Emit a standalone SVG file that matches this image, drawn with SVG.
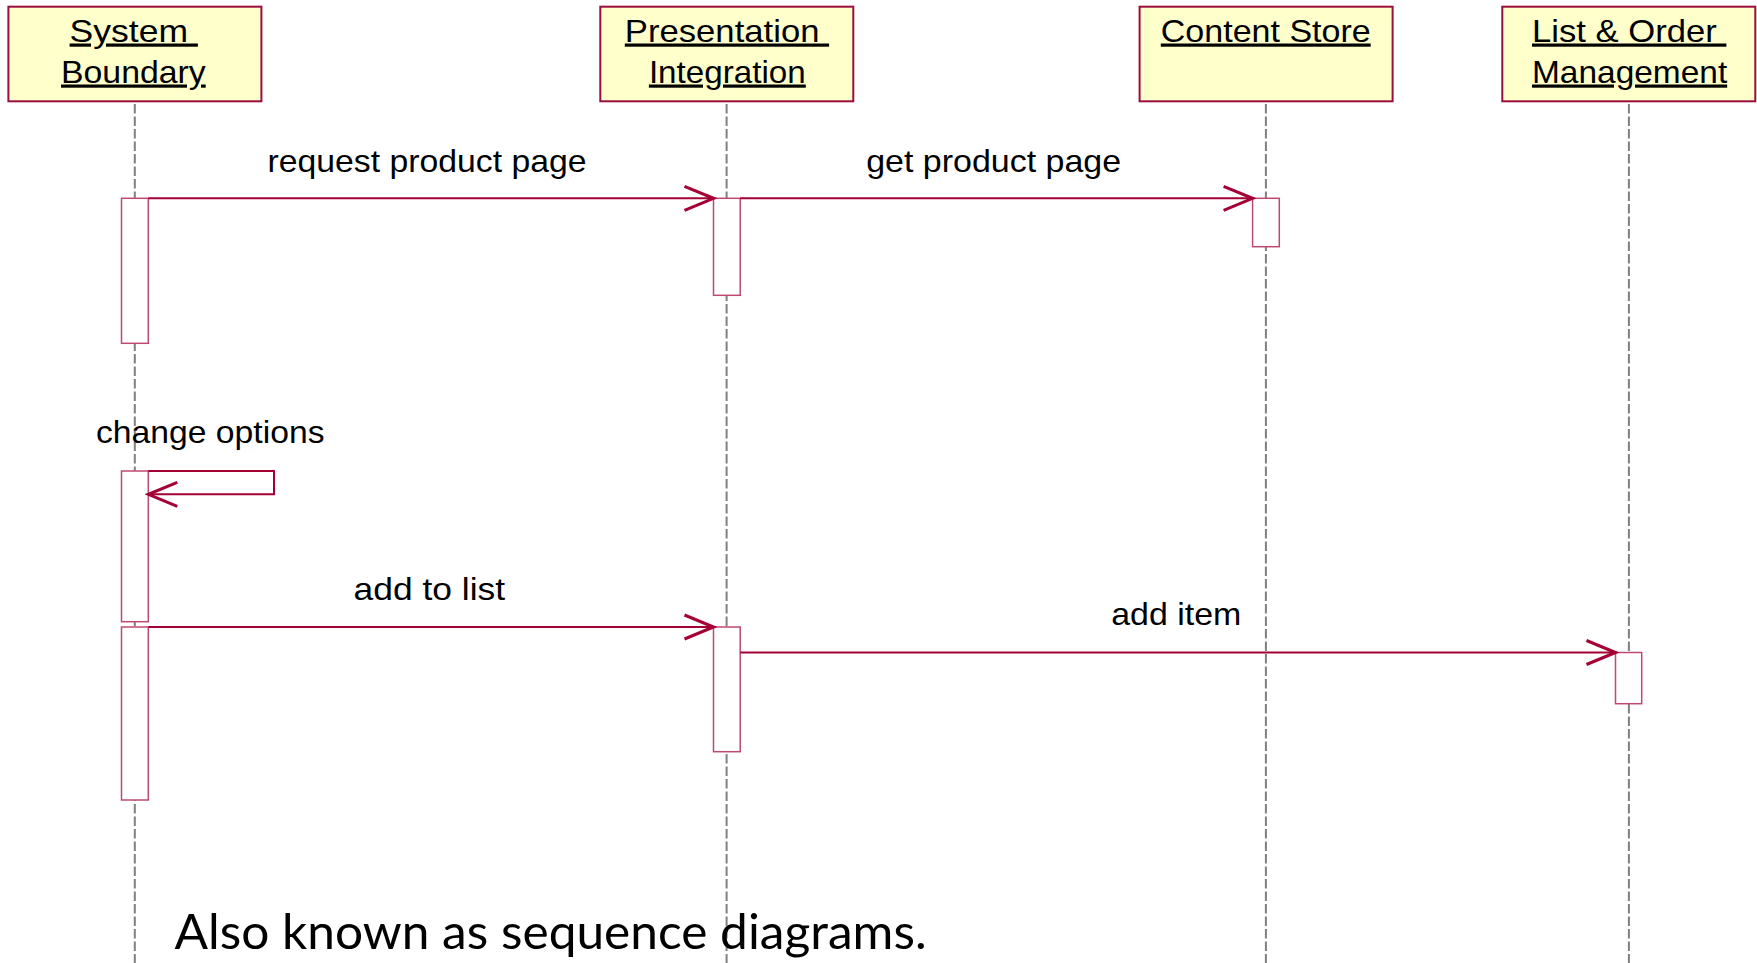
<svg xmlns="http://www.w3.org/2000/svg" width="1757" height="963" viewBox="0 0 1757 963">
  <style>
    .box { fill: #FFFFCC; stroke: #9B0D3E; stroke-width: 2; }
    .head { font-family: "Liberation Sans", Arial, sans-serif; font-size: 32px; fill: #000; text-decoration: underline; }
    .life { stroke: #808080; stroke-width: 2; stroke-dasharray: 9.5 3; fill: none; }
    .act { fill: #FFFFFF; stroke: #BE4A72; stroke-width: 1.5; }
    .msg { stroke: #A50034; stroke-width: 2; fill: none; marker-end: url(#open); }
    .lbl { font-family: "Liberation Sans", Arial, sans-serif; font-size: 32px; fill: #000; }
    .note { font-family: Lato, "Open Sans", sans-serif; font-size: 48px; fill: #000; }
  </style>
  <defs>
    <marker id="open" markerUnits="userSpaceOnUse" viewBox="-2 -2 34 28" refX="29" refY="12" markerWidth="34" markerHeight="28" orient="auto">
      <path d="M0,0 L29,12 L0,24" fill="none" stroke="#A50034" stroke-width="3"/>
    </marker>
  </defs>

  <rect width="1757" height="963" fill="#FFFFFF"/>

  <!-- lifelines -->
  <g id="lifelines">
    <line class="life" x1="134.8" y1="104" x2="134.8" y2="963"/>
    <line class="life" x1="726.6" y1="104" x2="726.6" y2="963"/>
    <line class="life" x1="1265.9" y1="104" x2="1265.9" y2="963"/>
    <line class="life" x1="1628.9" y1="104" x2="1628.9" y2="963"/>
  </g>

  <!-- participants -->
  <g id="system-boundary">
    <rect class="box" x="8.4" y="6.7" width="253" height="94.6"/>
    <text class="head" xml:space="preserve" x="69.6" y="41.5" textLength="128.3" lengthAdjust="spacingAndGlyphs">System </text>
    <text class="head" x="61" y="82.5" textLength="144.7" lengthAdjust="spacingAndGlyphs">Boundary</text>
  </g>
  <g id="presentation-integration">
    <rect class="box" x="600.3" y="6.7" width="253" height="94.6"/>
    <text class="head" xml:space="preserve" x="624.8" y="41.5" textLength="204.3" lengthAdjust="spacingAndGlyphs">Presentation </text>
    <text class="head" x="648.9" y="82.5" textLength="156.9" lengthAdjust="spacingAndGlyphs">Integration</text>
  </g>
  <g id="content-store">
    <rect class="box" x="1139.6" y="6.7" width="253" height="94.6"/>
    <text class="head" x="1160.8" y="41.5" textLength="209.9" lengthAdjust="spacingAndGlyphs">Content Store</text>
  </g>
  <g id="list-order-management">
    <rect class="box" x="1502.3" y="6.7" width="253" height="94.6"/>
    <text class="head" xml:space="preserve" x="1532" y="41.5" textLength="194.4" lengthAdjust="spacingAndGlyphs">List &amp; Order </text>
    <text class="head" x="1532" y="82.5" textLength="195.2" lengthAdjust="spacingAndGlyphs">Management</text>
  </g>

  <!-- activation bars -->
  <g id="activations">
    <rect class="act" x="121.5" y="198.3" width="26.8" height="145"/>
    <rect class="act" x="713.5" y="198.3" width="26.7" height="97"/>
    <rect class="act" x="1252.6" y="198.3" width="26.7" height="48.4"/>
    <rect class="act" x="121.5" y="471" width="26.8" height="150.7"/>
    <rect class="act" x="121.5" y="627" width="26.8" height="173"/>
    <rect class="act" x="713.5" y="627" width="26.7" height="124.7"/>
    <rect class="act" x="1615.5" y="652.5" width="26.2" height="51.2"/>
  </g>

  <!-- messages -->
  <g id="connectors">
    <line class="msg" x1="148.3" y1="198.3" x2="713.5" y2="198.3"/>
    <line class="msg" x1="740.2" y1="198.3" x2="1252.6" y2="198.3"/>
    <path class="msg" d="M148.3,471 H274 V494.3 H148.3"/>
    <line class="msg" x1="148.3" y1="627" x2="713.5" y2="627"/>
    <line class="msg" x1="740.2" y1="652.5" x2="1615.5" y2="652.5"/>
  </g>

  <!-- message labels -->
  <g id="labels">
    <text class="lbl" x="267.5" y="171.5" textLength="319" lengthAdjust="spacingAndGlyphs">request product page</text>
    <text class="lbl" x="866.2" y="171.5" textLength="254.9" lengthAdjust="spacingAndGlyphs">get product page</text>
    <text class="lbl" x="95.9" y="443.3" textLength="228.6" lengthAdjust="spacingAndGlyphs">change options</text>
    <text class="lbl" x="353.6" y="600" textLength="151.5" lengthAdjust="spacingAndGlyphs">add to list</text>
    <text class="lbl" x="1111.2" y="625" textLength="130.1" lengthAdjust="spacingAndGlyphs">add item</text>
  </g>

  <text class="note" x="174.6" y="948.5" textLength="752" lengthAdjust="spacingAndGlyphs">Also known as sequence diagrams.</text>
</svg>
